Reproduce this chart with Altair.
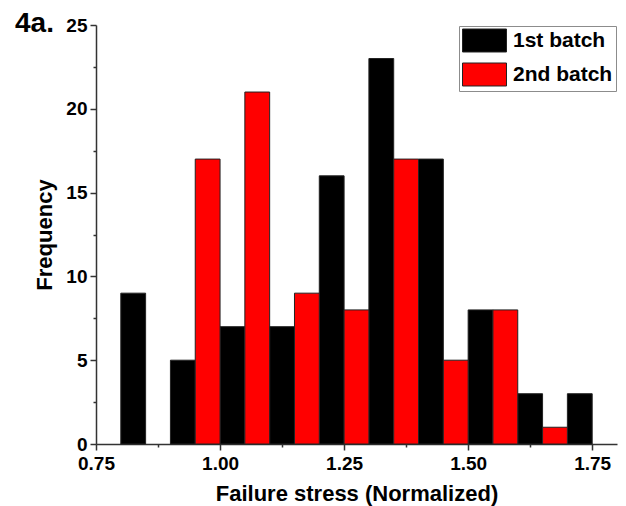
import altair as alt
import pandas as pd

# 1st batch histogram bins (left edges) and counts
batch1_left = [0.80, 0.90, 1.00, 1.10, 1.20, 1.30, 1.40, 1.50, 1.60, 1.70]
batch1_count = [9, 5, 7, 7, 16, 23, 17, 8, 3, 3]
# 2nd batch
batch2_left = [0.95, 1.05, 1.15, 1.25, 1.35, 1.45, 1.55, 1.65]
batch2_count = [17, 21, 9, 8, 17, 5, 8, 1]
bin_width = 0.05

series = ["1st batch", "2nd batch"]
colors = ["#000000", "#ff0000"]

x_ticks = [0.75, 0.875, 1.0, 1.125, 1.25, 1.375, 1.5, 1.625, 1.75]
y_ticks = [0, 2.5, 5, 7.5, 10, 12.5, 15, 17.5, 20, 22.5, 25]

rows = []
for l, c in zip(batch1_left, batch1_count):
    rows.append({"batch": series[0], "x0": l, "x1": round(l + bin_width, 3), "count": c})
for l, c in zip(batch2_left, batch2_count):
    rows.append({"batch": series[1], "x0": l, "x1": round(l + bin_width, 3), "count": c})
df = pd.DataFrame(rows)

FONT = "Liberation Sans"
AXIS_COLOR = "#333333"

x_axis = alt.Axis(
    values=x_ticks,
    labelExpr="(datum.value*4) % 1 == 0 ? format(datum.value, '.2f') : ''",
    tickSize={"condition": {"test": "(datum.value*4) % 1 != 0", "value": 3}, "value": 6},
    grid=False,
    domainColor=AXIS_COLOR,
    domainWidth=1.5,
    tickColor=AXIS_COLOR,
    tickWidth=1.5,
    labelFont=FONT,
    labelFontSize=19,
    labelFontWeight="bold",
    labelColor="#000000",
    labelPadding=4,
    labelFlush=False,
    titleFont=FONT,
    titleFontSize=22,
    titleFontWeight="bold",
    titleColor="#000000",
    titlePadding=10,
)
y_axis = alt.Axis(
    values=y_ticks,
    labelExpr="datum.value % 5 == 0 ? format(datum.value, 'd') : ''",
    tickSize={"condition": {"test": "datum.value % 5 != 0", "value": 3}, "value": 6},
    grid=False,
    domainColor=AXIS_COLOR,
    domainWidth=1.5,
    tickColor=AXIS_COLOR,
    tickWidth=1.5,
    labelFont=FONT,
    labelFontSize=19,
    labelFontWeight="bold",
    labelColor="#000000",
    labelPadding=3,
    labelFlush=False,
    titleFont=FONT,
    titleFontSize=22,
    titleFontWeight="bold",
    titleColor="#000000",
    titlePadding=9,
)

legend = alt.Legend(
    title=None,
    orient="none",
    legendX=363,
    legendY=1,
    symbolType="M-2,-1.045L2,-1.045L2,1.045L-2,1.045Z",
    symbolSize=484,
    symbolStrokeColor="#222222",
    symbolStrokeWidth=1,
    symbolOpacity=1,
    symbolOffset=11,
    labelOffset=17,
    labelFont=FONT,
    labelFontSize=21,
    labelFontWeight="bold",
    labelColor="#000000",
    rowPadding=7,
    padding=3,
    strokeColor="#8c8c8c",
    fillColor="#ffffff",
)

chart = (
    alt.Chart(df)
    .mark_bar(stroke="#222222", strokeWidth=1, opacity=1)
    .encode(
        x=alt.X("x0:Q", title="Failure stress (Normalized)",
                scale=alt.Scale(domain=[0.75, 1.80], nice=False, zero=False),
                axis=x_axis),
        x2="x1:Q",
        y=alt.Y("count:Q", title="Frequency",
                scale=alt.Scale(domain=[0, 25], nice=False),
                axis=y_axis),
        y2=alt.datum(0),
        color=alt.Color("batch:N", scale=alt.Scale(domain=series, range=colors), legend=legend),
    )
    .properties(
        width=521,
        height=419,
        title=alt.TitleParams(
            text="4a.", anchor="start", frame="group", fontSize=28, fontWeight="bold",
            font=FONT, color="#000000", dx=-81, dy=22, offset=0,
        ),
        autosize=alt.AutoSizeParams(type="none"),
        padding={"left": 96, "top": 25, "right": 9, "bottom": 62},
    )
    .configure_view(stroke=None)
)

chart.save("out.html", embed_options={"renderer": "svg", "actions": False})
